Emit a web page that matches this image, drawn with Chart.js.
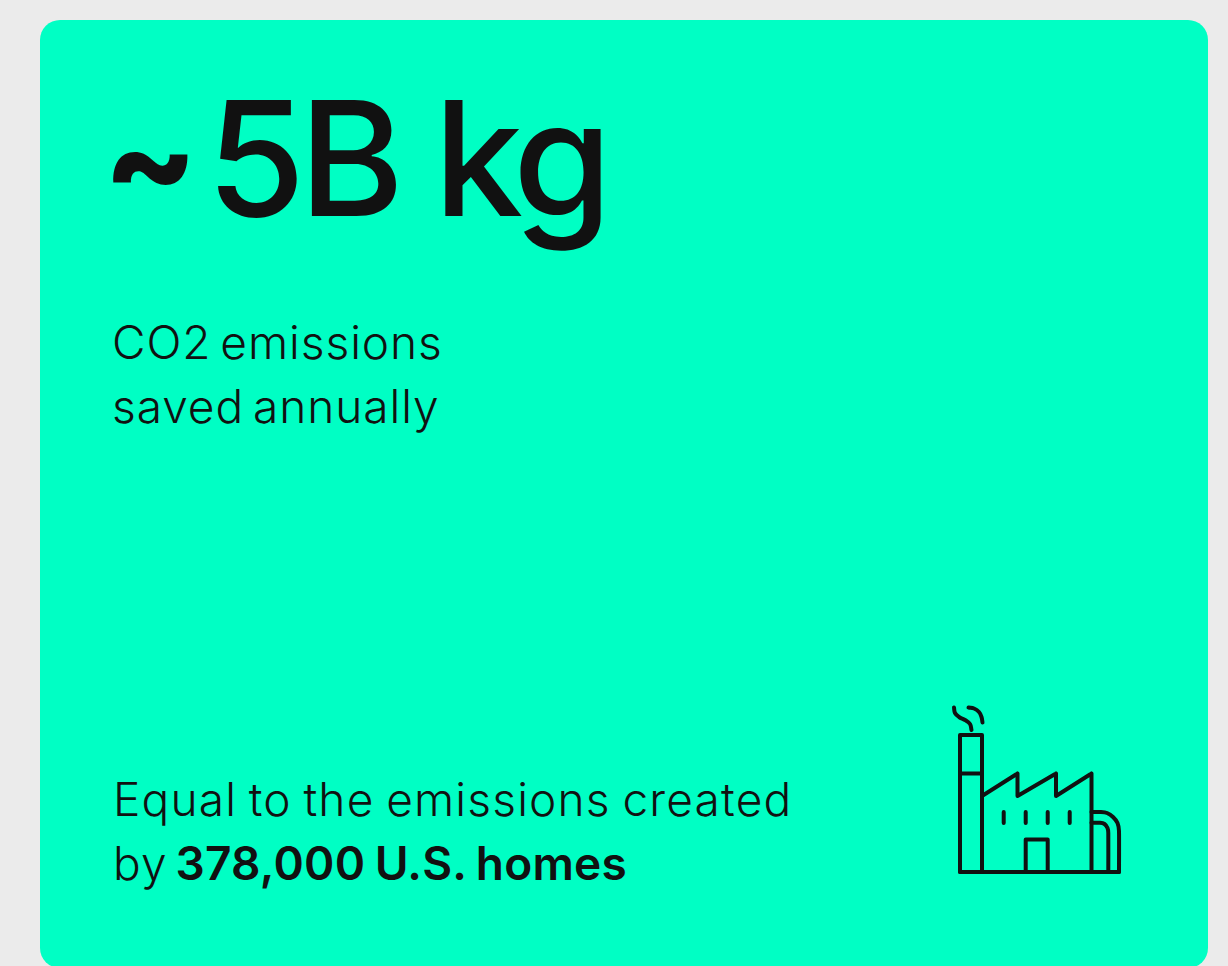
<!DOCTYPE html>
<html>
<head>
<meta charset="utf-8">
<title>CO2 emissions saved</title>
<script src="https://cdn.jsdelivr.net/npm/chart.js@4"></script>
<style>
  html, body { margin: 0; height: 100%; overflow: hidden; background: #ebebeb; }
  .card {
    position: absolute; left: 40px; top: 20px; width: 1168px; height: 948px;
    background: #00ffc4; border-radius: 20px;
  }
  .txt {
    position: absolute; margin: 0; color: #111; white-space: nowrap;
    font-family: Inter, "Noto Sans", sans-serif; font-weight: 300;
  }
  #headline { left: 63px; top: 43px; font-size: 160px; line-height: 190px; font-weight: 450; letter-spacing: -6.5px; }
  #headline span { position: relative; top: -7px; font-weight: 800; font-size: 138px; letter-spacing: 9px; }
  #sub { left: 72px; top: 290px; font-size: 46px; line-height: 64px; letter-spacing: 0.95px; word-spacing: -5px; }
  #foot { left: 73px; top: 747px; font-size: 46px; line-height: 64px; letter-spacing: 1.2px; word-spacing: -2.5px; }
  #foot b { font-weight: 600; letter-spacing: 0.27px; margin-left: -4px; }
  #icon { position: absolute; left: 930px; top: 690px; }
</style>
</head>
<body>
<div class="card">
  <p class="txt" id="headline"><span>~</span>5B kg</p>
  <p class="txt" id="sub">CO2 emissions<br>saved annually</p>
  <p class="txt" id="foot">Equal to the emissions created<br>by <b>378,000 U.S. homes</b></p>
</div>
<canvas id="icon" width="210" height="200"></canvas>
<script>
// Factory icon outlines
const chimney = [[960, 872], [960, 735], [982, 735], [982, 872]];
const chimneyBand = [[960, 773.5], [982, 773.5]];
const ground = [[960, 872], [1119, 872]];
const roof = [[982, 796], [1017.5, 773.5], [1017.5, 796], [1056, 773.5], [1056, 796], [1091.5, 773.5], [1091.5, 872]];
const door = [[1025.7, 872], [1025.7, 839.5], [1047.7, 839.5], [1047.7, 872]];
const window1 = [[1003.7, 812], [1003.7, 823]];
const window2 = [[1025.7, 812], [1025.7, 823]];
const window3 = [[1047.7, 812], [1047.7, 823]];
const window4 = [[1069.7, 812], [1069.7, 823]];
const pipeOuter = [[1091.5, 812], [1101, 812], [1107, 813], [1113, 817], [1117.5, 823], [1119, 831], [1119, 872]];
const pipeInner = [[1091.5, 822.7], [1100, 822.7], [1104.5, 824], [1107.5, 828], [1108.3, 833], [1108.3, 872]];
const pipes = [pipeOuter, pipeInner];
const smokeCurved = [
  [[954, 707.5], [955, 713], [959, 717], [965, 720], [970, 724], [971.5, 730]],
  [[968.5, 707.5], [974, 708.5], [979, 712], [981.5, 717], [982.5, 722.5]]
];
const straightParts = [chimney, chimneyBand, ground, roof, door, window1, window2, window3, window4];

function lineDataset(points, tension) {
  return {
    data: points.map(p => ({ x: p[0], y: p[1] })),
    borderColor: "#111",
    borderWidth: 4,
    borderCapStyle: "round",
    borderJoinStyle: "round",
    pointRadius: 0,
    tension: tension
  };
}

new Chart(document.getElementById("icon").getContext("2d"), {
  type: "scatter",
  data: {
    datasets: [
      ...straightParts.map(p => lineDataset(p, 0)),
      ...pipes.map(p => lineDataset(p, 0.15)),
      ...smokeCurved.map(p => lineDataset(p, 0.4))
    ]
  },
  options: {
    responsive: false,
    animation: false,
    showLine: true,
    layout: { padding: 0 },
    plugins: { legend: { display: false }, tooltip: { enabled: false } },
    scales: {
      x: { type: "linear", min: 930, max: 1140, display: false },
      y: { type: "linear", min: 690, max: 890, reverse: true, display: false }
    }
  }
});
</script>
</body>
</html>
